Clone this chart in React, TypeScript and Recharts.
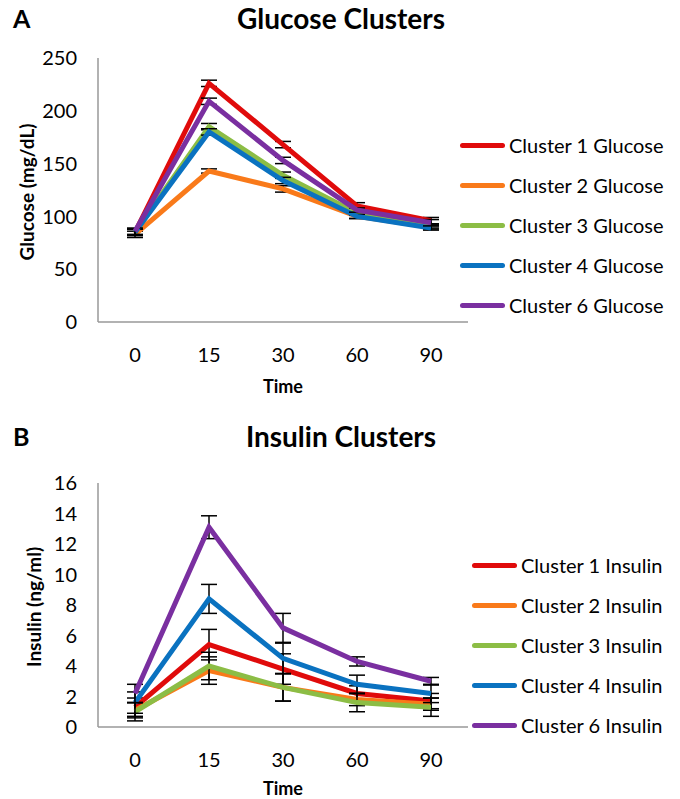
import React from 'react';
import { LineChart, Line, XAxis, YAxis, ErrorBar } from 'recharts';

const times = ['0', '15', '30', '60', '90'];

const glucoseC1 = [85, 226, 168, 110, 96];
const glucoseC2 = [83, 143, 126, 100, 90];
const glucoseC3 = [85, 185, 139, 103, 91];
const glucoseC4 = [85, 180, 134, 100, 89];
const glucoseC6 = [86, 209, 153, 106, 94];
const glucoseErr1 = [3, 3, 3, 3, 3];
const glucoseErr2 = [3, 2, 3, 2, 2];
const glucoseErr3 = [3, 3, 3, 2, 2];
const glucoseErr4 = [3, 3, 3, 2, 2];
const glucoseErr6 = [3, 3, 3, 2, 3];

const insulinC1 = [1.3, 5.4, 3.8, 2.2, 1.7];
const insulinC2 = [1.1, 3.7, 2.6, 1.8, 1.5];
const insulinC3 = [1.0, 4.0, 2.6, 1.6, 1.3];
const insulinC4 = [1.6, 8.4, 4.5, 2.8, 2.2];
const insulinC6 = [2.2, 13.1, 6.5, 4.3, 3.0];
const insulinErr1 = [0.6, 1.0, 1.0, 0.5, 0.5];
const insulinErr2 = [0.5, 0.9, 0.9, 0.4, 0.4];
const insulinErr3 = [0.6, 0.9, 0.9, 0.6, 0.6];
const insulinErr4 = [0.7, 0.95, 1.0, 0.6, 0.6];
const insulinErr6 = [0.6, 0.75, 0.95, 0.3, 0.25];

const glucoseTicks = [0, 50, 100, 150, 200, 250];
const insulinTicks = [0, 2, 4, 6, 8, 10, 12, 14, 16];

const clusterNames = ['Cluster 1', 'Cluster 2', 'Cluster 3', 'Cluster 4', 'Cluster 6'];
const colors = ['#E00B0B', '#F97A1A', '#8CBD45', '#0A72C0', '#7A2FA0'];

const FONT = 'Lato, "Open Sans", sans-serif';

const glucoseSeries = [glucoseC1, glucoseC2, glucoseC3, glucoseC4, glucoseC6];
const glucoseErrs = [glucoseErr1, glucoseErr2, glucoseErr3, glucoseErr4, glucoseErr6];
const insulinSeries = [insulinC1, insulinC2, insulinC3, insulinC4, insulinC6];
const insulinErrs = [insulinErr1, insulinErr2, insulinErr3, insulinErr4, insulinErr6];

function buildData(series: number[][], errs: number[][]) {
  return times.map((t, i) => {
    const row: Record<string, any> = { time: t };
    series.forEach((s, k) => {
      row['s' + k] = s[i];
      row['e' + k] = errs[k][i];
    });
    return row;
  });
}

const glucoseData = buildData(glucoseSeries, glucoseErrs);
const insulinData = buildData(insulinSeries, insulinErrs);

function YLabel(text: string, x: number) {
  return (props: any) => {
    const vb = props.viewBox;
    const cy = vb.y + vb.height / 2 + 2;
    return (
      <text
        x={x}
        y={cy}
        transform={`rotate(-90, ${x}, ${cy})`}
        textAnchor="middle"
        dominantBaseline="central"
        fontFamily={FONT}
        fontWeight="bold"
        fontSize={19}
        fill="#000"
      >
        {text}
      </text>
    );
  };
}

function Legend({ suffix, left, top }: { suffix: string; left: number; top: number }) {
  return (
    <div style={{ position: 'absolute', left, top, fontFamily: FONT, fontSize: 20, color: '#000' }}>
      {clusterNames.map((n, i) => (
        <div key={n} style={{ display: 'flex', alignItems: 'center', height: 40 }}>
          <div style={{ width: 45, height: 5, borderRadius: 2.5, background: colors[i], marginRight: 4 }} />
          <span style={{ whiteSpace: 'nowrap' }}>{n + ' ' + suffix}</span>
        </div>
      ))}
    </div>
  );
}

function Panel({
  data, ticks, max, label, labelX, marginTop, height, marginBottom, timeOffset,
}: any) {
  return (
    <LineChart
      width={680}
      height={height}
      data={data}
      margin={{ top: marginTop, right: 212, left: 8, bottom: marginBottom }}
    >
      <XAxis
        dataKey="time"
        padding={{ left: 37, right: 37 }}
        axisLine={{ stroke: '#999', strokeWidth: 1.5 }}
        tickLine={false}
        tickMargin={20}
        height={71}
        tick={{ fontFamily: FONT, fontSize: 20, fill: '#000' }}
        label={{ value: 'Time', position: 'insideBottom', offset: timeOffset, style: { fontFamily: FONT, fontWeight: 'bold', fontSize: 18, fill: '#000' } }}
      />
      <YAxis
        width={90}
        domain={[0, max]}
        ticks={ticks}
        interval={0}
        axisLine={{ stroke: '#999', strokeWidth: 1.5 }}
        tickLine={false}
        tickMargin={15}
        tick={{ fontFamily: FONT, fontSize: 20, fill: '#000' }}
        label={{ content: YLabel(label, labelX) }}
      />
      {colors.map((c, k) => (
        <Line
          key={k}
          type="linear"
          dataKey={'s' + k}
          stroke={c}
          strokeWidth={5}
          dot={false}
          activeDot={false}
          isAnimationActive={false}
        >
          <ErrorBar dataKey={'e' + k} direction="y" width={8} stroke="#000" strokeWidth={1.5} />
        </Line>
      ))}
    </LineChart>
  );
}

export default function App() {
  return (
    <div style={{ position: 'absolute', left: 0, top: 0, width: 680, height: 799, background: '#fff', overflow: 'hidden' }}>
      <div style={{ position: 'absolute', left: 0, top: 0 }}>
        <Panel data={glucoseData} ticks={glucoseTicks} max={250} label="Glucose (mg/dL)" labelX={26}
          marginTop={58} height={400} marginBottom={7} timeOffset={0} />
      </div>
      <div style={{ position: 'absolute', left: 0, top: 420 }}>
        <Panel data={insulinData} ticks={insulinTicks} max={16} label="Insulin (ng/ml)" labelX={33}
          marginTop={63} height={379} marginBottom={1} timeOffset={3} />
      </div>
      <div style={{ position: 'absolute', left: 13, top: 3, fontFamily: FONT, fontWeight: 'bold', fontSize: 25 }}>A</div>
      <div style={{ position: 'absolute', left: 0, width: 682, top: 1, textAlign: 'center', fontFamily: FONT, fontWeight: 'bold', fontSize: 28 }}>Glucose Clusters</div>
      <div style={{ position: 'absolute', left: 13, top: 421, fontFamily: FONT, fontWeight: 'bold', fontSize: 25 }}>B</div>
      <div style={{ position: 'absolute', left: 0, width: 682, top: 419, textAlign: 'center', fontFamily: FONT, fontWeight: 'bold', fontSize: 28 }}>Insulin Clusters</div>
      <Legend suffix="Glucose" left={460} top={125} />
      <Legend suffix="Insulin" left={472} top={545} />
    </div>
  );
}
